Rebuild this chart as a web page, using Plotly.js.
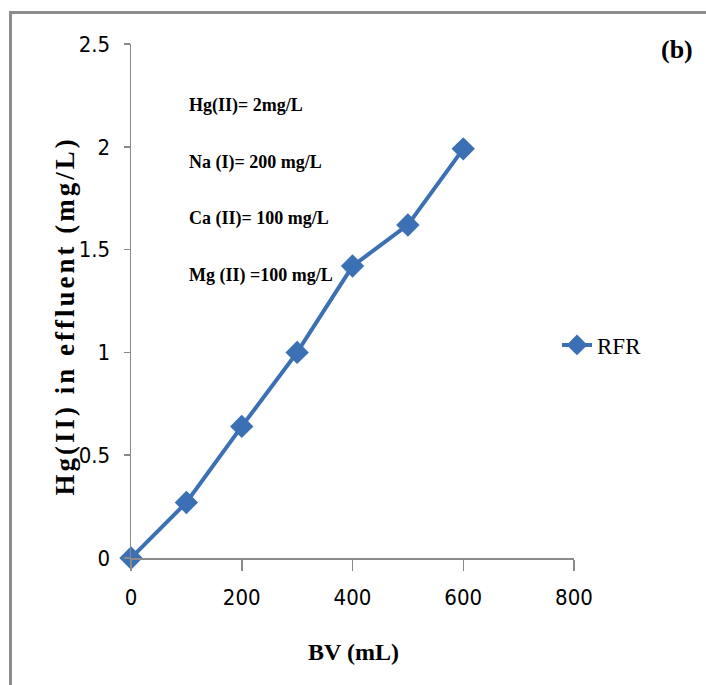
<!DOCTYPE html>
<html>
<head>
<meta charset="utf-8">
<script src="https://cdn.plot.ly/plotly-3.0.1.min.js"></script>
<style>
  html, body { margin: 0; padding: 0; background: #ffffff; }
  #wrap { position: relative; width: 706px; height: 685px; overflow: hidden; }
  #chart { width: 706px; height: 685px; }
  #frame {
    position: absolute; left: 9px; top: 11px; right: -10px; bottom: -10px;
    border-top: 3px solid #8c8c8c; border-left: 3px solid #8c8c8c;
    pointer-events: none;
  }
  /* spaced-out lettering for the vertical axis title (first annotation) */
  .annotation[data-index="0"] text { letter-spacing: 3px; }
</style>
</head>
<body>
<div id="wrap">
  <div id="chart"></div>
  <div id="frame"></div>
</div>
<script>
// Bed volumes passed (mL) and Hg(II) found in the effluent (mg/L)
const bvValues = [0, 100, 200, 300, 400, 500, 600];
const hgEffluent = [0, 0.27, 0.64, 1.00, 1.42, 1.62, 1.99];

// Axis ticks
const xTicks = [0, 200, 400, 600, 800];
const yTicks = [0, 0.5, 1, 1.5, 2, 2.5];

// Feed composition notes
const conditions = ['Hg(II)= 2mg/L', 'Na (I)= 200 mg/L', 'Ca (II)= 100 mg/L', 'Mg (II) =100 mg/L'];
const seriesName = 'RFR';
const panelLabel = '(b)';
const xTitle = 'BV (mL)';
const yTitle = 'Hg(II) in effluent (mg/L)';

const W = 706, H = 685;
const M = { l: 131, r: 132, t: 44, b: 127 };
const plotW = W - M.l - M.r, plotH = H - M.t - M.b;
// pixel position -> paper fraction
const px = x => (x - M.l) / plotW;
const py = y => (H - M.b - y) / plotH;

const blue = '#3C70B4';
const axisGrey = '#8a8a8a';
const serif = '"Liberation Serif", "Times New Roman", serif';
const narrow = '"Liberation Sans Narrow", "DejaVu Sans Condensed", "Open Sans", sans-serif';

const trace = {
  x: bvValues,
  y: hgEffluent,
  name: seriesName,
  type: 'scatter',
  mode: 'lines+markers',
  line: { color: blue, width: 4 },
  marker: { symbol: 'diamond', size: 18, color: blue },
  cliponaxis: false
};

const annotations = [];
// vertical axis title
annotations.push({
  text: '<b>' + yTitle + '</b>',
  xref: 'paper', yref: 'paper',
  x: px(65), y: py(316),
  xanchor: 'center', yanchor: 'middle',
  textangle: -90,
  showarrow: false,
  font: { family: serif, size: 27, color: '#000000' }
});
const noteY = [105, 163, 218, 275];
conditions.forEach((t, i) => annotations.push({
  text: '<b>' + t + '</b>',
  xref: 'paper', yref: 'paper',
  x: px(187), y: py(noteY[i]),
  xanchor: 'left', yanchor: 'middle',
  showarrow: false,
  font: { family: serif, size: 18, color: '#000000' }
}));
annotations.push({
  text: '<b>' + panelLabel + '</b>',
  xref: 'paper', yref: 'paper',
  x: px(677), y: py(50),
  xanchor: 'center', yanchor: 'middle',
  showarrow: false,
  font: { family: serif, size: 26, color: '#000000' }
});
// horizontal axis title
annotations.push({
  text: '<b>' + xTitle + '</b>',
  xref: 'paper', yref: 'paper',
  x: px(353), y: py(652),
  xanchor: 'center', yanchor: 'middle',
  showarrow: false,
  font: { family: serif, size: 24, color: '#000000' }
});

const layout = {
  width: W, height: H,
  margin: M,
  paper_bgcolor: '#ffffff',
  plot_bgcolor: '#ffffff',
  showlegend: true,
  legend: {
    x: px(557), y: py(345),
    xanchor: 'left', yanchor: 'middle',
    font: { family: serif, size: 23, color: '#000000' },
    bgcolor: 'rgba(0,0,0,0)',
    itemwidth: 30
  },
  xaxis: {
    range: [0, 800],
    tickvals: xTicks,
    showgrid: false, zeroline: false,
    showline: true, linecolor: axisGrey, linewidth: 1.5,
    ticks: 'outside', ticklen: 11, tickcolor: axisGrey, tickwidth: 1.5,
    ticklabelstandoff: 8,
    tickfont: { family: narrow, size: 22, color: '#000000' },
    automargin: false
  },
  yaxis: {
    range: [0, 2.5],
    tickvals: yTicks,
    showgrid: false, zeroline: false,
    showline: true, linecolor: axisGrey, linewidth: 1.5,
    ticks: 'outside', ticklen: 6, tickcolor: axisGrey, tickwidth: 1.5,
    ticklabelstandoff: 9,
    tickfont: { family: narrow, size: 22, color: '#000000' },
    automargin: false
  },
  annotations: annotations
};

Plotly.newPlot('chart', [trace], layout, { displayModeBar: false, staticPlot: true });
</script>
</body>
</html>
